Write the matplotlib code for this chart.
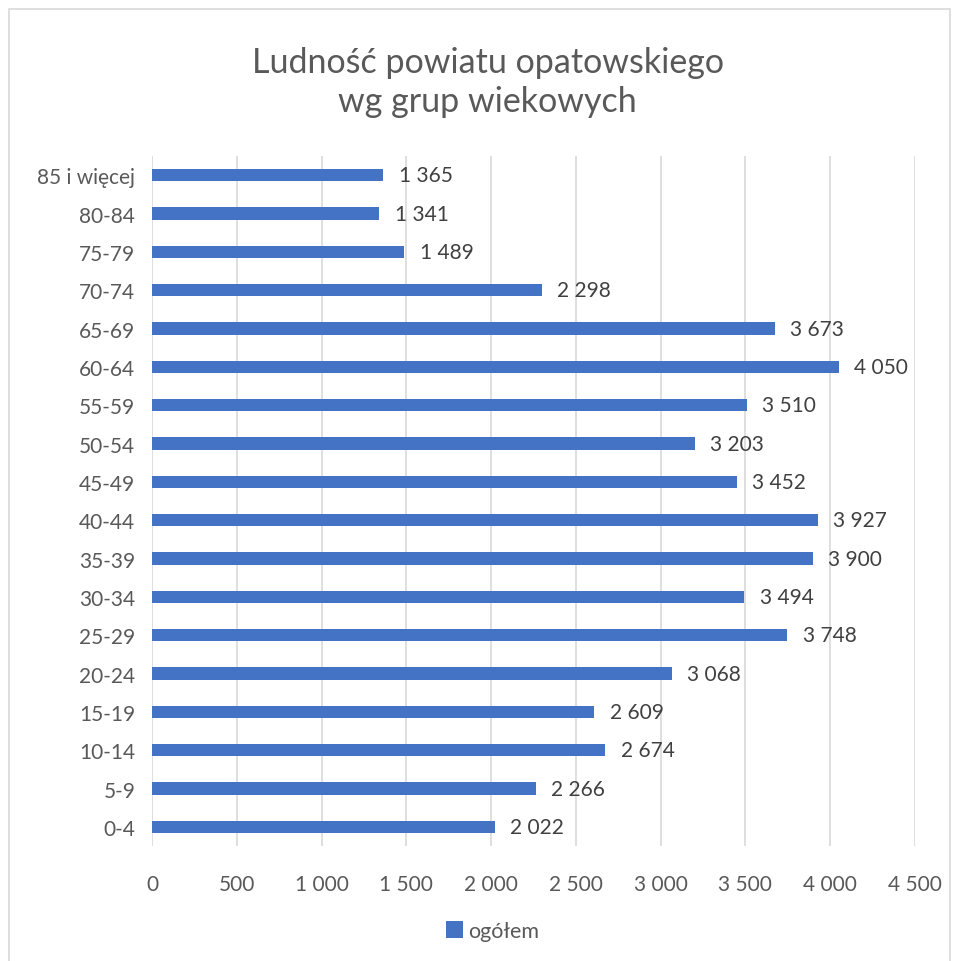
import matplotlib.pyplot as plt
from matplotlib.patches import Rectangle

plt.rcParams['font.family'] = ['Lato', 'DejaVu Sans']

groups = ['0-4', '5-9', '10-14', '15-19', '20-24', '25-29', '30-34', '35-39',
          '40-44', '45-49', '50-54', '55-59', '60-64', '65-69', '70-74',
          '75-79', '80-84', '85 i więcej']
values = [2022, 2266, 2674, 2609, 3068, 3748, 3494, 3900,
          3927, 3452, 3203, 3510, 4050, 3673, 2298,
          1489, 1341, 1365]
xticks = list(range(0, 5000, 500))

def fmt(v):
    return f'{v:,}'.replace(',', ' ')

fig = plt.figure(figsize=(9.56, 9.62), dpi=100)
ax = fig.add_axes([0.159, 0.1195, 0.798, 0.7173])

bar_color = '#4472C4'
text_color = '#595959'

bars = ax.barh(range(len(groups)), values, height=0.32, color=bar_color,
               label='ogółem', zorder=3)
for i, v in enumerate(values):
    ax.text(v + 90, i, fmt(v), va='center', ha='left', fontsize=15,
            color='#404040')

ax.set_xlim(0, 4500)
ax.set_ylim(-0.5, len(groups) - 0.5)
ax.set_xticks(xticks)
ax.set_xticklabels([fmt(t) for t in xticks])
ax.set_yticks(range(len(groups)))
ax.set_yticklabels(groups)
ax.tick_params(axis='both', length=0, labelsize=15, labelcolor=text_color)
ax.tick_params(axis='x', pad=20)
ax.tick_params(axis='y', pad=12)
ax.grid(axis='x', color='#d9d9d9', linewidth=1.2, zorder=0)
for s in ax.spines.values():
    s.set_visible(False)

fig.text(0.51, 0.914, 'Ludność powiatu opatowskiego\nwg grup wiekowych',
         ha='center', va='center', fontsize=24.5, color=text_color,
         linespacing=1.25)

leg = fig.legend(handles=[bars], labels=['ogółem'], loc='center',
                 bbox_to_anchor=(0.515, 0.031), frameon=False, fontsize=15.5,
                 handlelength=0.8, handleheight=0.8, handletextpad=0.25)
for t in leg.get_texts():
    t.set_color(text_color)

fig.patches.append(Rectangle((0.009, -0.01), 0.985, 1.0, transform=fig.transFigure,
                             fill=False, edgecolor='#d9d9d9', linewidth=1.2))

fig.savefig('out.png', dpi=100)
